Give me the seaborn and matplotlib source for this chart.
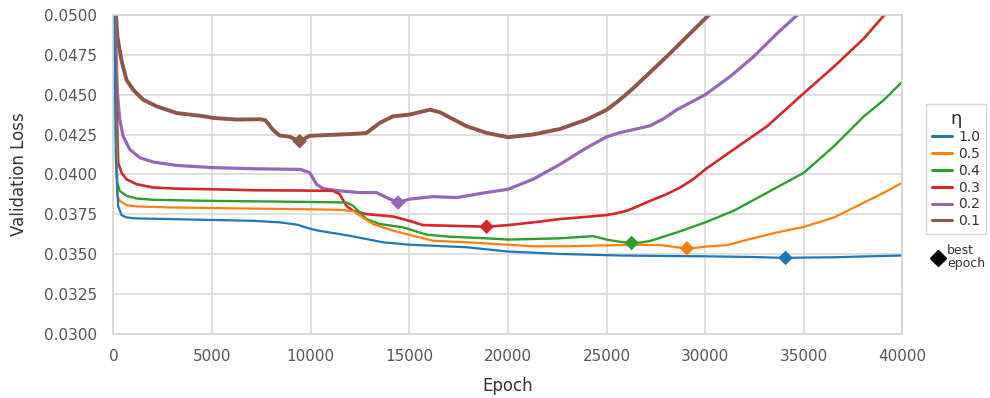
import numpy as np
import pandas as pd
import matplotlib
matplotlib.use("Agg")
import matplotlib.pyplot as plt
from matplotlib.lines import Line2D
from matplotlib.ticker import FuncFormatter
import seaborn as sns

# ---- validation loss per learning-rate scale η ----
eta_labels = ["1.0", "0.5", "0.4", "0.3", "0.2", "0.1"]
eta_colors = ["#1f77b4", "#ff7f0e", "#2ca02c", "#d62728", "#9467bd", "#8c564b"]
eta_widths = [1.6, 1.6, 1.7, 1.9, 2.3, 2.8]

epochs_10 = [0, 120, 240, 410, 660, 1170, 2860, 5070, 7100, 8460, 9300, 9980, 10400,
             11980, 13670, 15000, 17900, 20000, 22640, 25680, 28000, 30000, 32290,
             34070, 35000, 36530, 38000, 40000]
loss_10 = [0.0550, 0.0410, 0.0380, 0.03744, 0.03729, 0.03723, 0.03719, 0.03713, 0.03708,
           0.03698, 0.03684, 0.03658, 0.03646, 0.03614, 0.03573, 0.03558, 0.03542, 0.03515,
           0.03500, 0.03490, 0.03487, 0.03485, 0.03481, 0.03475, 0.03477, 0.03479,
           0.03484, 0.03490]

epochs_05 = [0, 100, 190, 320, 660, 1170, 2860, 5070, 9650, 11470, 12200, 12490, 13160,
             14180, 15190, 16200, 17900, 20000, 21270, 23000, 24660, 26360, 27710,
             28560, 29070, 29580, 30000, 31100, 32290, 33640, 35000, 36530, 38050,
             39070, 40000]
loss_05 = [0.0550, 0.0450, 0.03865, 0.03833, 0.03806, 0.03798, 0.03792, 0.03788, 0.03781,
           0.03777, 0.03768, 0.03740, 0.03688, 0.03646, 0.03614, 0.03583, 0.03573,
           0.03558, 0.03548, 0.03548, 0.03553, 0.03557, 0.03556, 0.03542, 0.03535,
           0.03539, 0.03546, 0.03555, 0.03594, 0.03635, 0.03670, 0.03729, 0.03823,
           0.03885, 0.03948]

epochs_04 = [0, 100, 190, 320, 660, 1170, 2020, 5070, 9650, 11810, 12150, 12830, 13500,
             14680, 15880, 17060, 18920, 20000, 22640, 24330, 25000, 25680, 26270,
             26700, 27200, 28560, 30000, 31440, 33140, 35000, 36530, 38050, 39070, 40000]
loss_04 = [0.0550, 0.0460, 0.03948, 0.03896, 0.03865, 0.03848, 0.03840, 0.03833, 0.03827,
           0.03823, 0.03802, 0.03719, 0.03688, 0.03667, 0.03621, 0.03608, 0.03598,
           0.03590, 0.03598, 0.03612, 0.03590, 0.03576, 0.03569, 0.03571, 0.03581,
           0.03635, 0.03698, 0.03771, 0.03885, 0.04010, 0.04177, 0.04365, 0.04469,
           0.04583]

epochs_03 = [0, 100, 240, 410, 660, 1170, 2020, 3200, 5070, 7100, 9650, 11130, 11470,
             11810, 12150, 12830, 14180, 15000, 15690, 17060, 18920, 20000, 21270,
             22640, 23990, 25000, 25500, 26020, 26600, 27200, 28000, 28730, 29400,
             30000, 31440, 33140, 35000, 36530, 38050, 39070, 40000]
loss_03 = [0.0550, 0.0470, 0.04073, 0.04010, 0.03969, 0.03938, 0.03917, 0.03910, 0.03906,
           0.03900, 0.03898, 0.03896, 0.03875, 0.03802, 0.03771, 0.03750, 0.03735,
           0.03708, 0.03681, 0.03677, 0.03671, 0.03681, 0.03698, 0.03719, 0.03733,
           0.03744, 0.03755, 0.03771, 0.03800, 0.03833, 0.03873, 0.03917, 0.03970,
           0.04031, 0.04156, 0.04302, 0.04510, 0.04677, 0.04854, 0.05000, 0.05120]

epochs_02 = [0, 100, 200, 320, 490, 830, 1340, 2020, 3200, 5070, 7100, 9480, 9950,
             10290, 10630, 11470, 12480, 13330, 13840, 14430, 15000, 16200, 17400,
             18920, 20000, 21270, 22640, 23990, 25000, 25680, 26500, 27200, 27900,
             28560, 30000, 31270, 32460, 33640, 34660, 35300]
loss_02 = [0.0550, 0.0490, 0.04510, 0.04344, 0.04240, 0.04156, 0.04104, 0.04077, 0.04056,
           0.04042, 0.04035, 0.04031, 0.04010, 0.03938, 0.03910, 0.03896, 0.03885,
           0.03886, 0.03854, 0.03823, 0.03844, 0.03860, 0.03854, 0.03886, 0.03906,
           0.03969, 0.04063, 0.04167, 0.04235, 0.04262, 0.04285, 0.04305, 0.04350,
           0.04406, 0.04500, 0.04615, 0.04740, 0.04885, 0.05000, 0.05080]

epochs_01 = [0, 100, 200, 400, 660, 1000, 1500, 2190, 3200, 4560, 5070, 6250, 7440,
             7700, 8080, 8420, 8930, 9440, 9950, 11470, 12480, 12830, 13500, 14170,
             15000, 16040, 16550, 17900, 18920, 20000, 21270, 22640, 23990, 25000,
             25680, 26360, 28050, 29070, 29750, 30420]
loss_01 = [0.0550, 0.0505, 0.04865, 0.04719, 0.04594, 0.04531, 0.04469, 0.04427,
           0.04385, 0.04365, 0.04354, 0.04344, 0.04346, 0.04340, 0.04281, 0.04244,
           0.04236, 0.04208, 0.04242, 0.04250, 0.04256, 0.04260, 0.04323, 0.04364,
           0.04375, 0.04406, 0.04390, 0.04302, 0.04260, 0.04233, 0.04250, 0.04285,
           0.04344, 0.04405, 0.04469, 0.04542, 0.04740, 0.04865, 0.04948, 0.05030]

epoch_lists = [epochs_10, epochs_05, epochs_04, epochs_03, epochs_02, epochs_01]
loss_lists = [loss_10, loss_05, loss_04, loss_03, loss_02, loss_01]

y_ticks = [0.0300, 0.0325, 0.0350, 0.0375, 0.0400, 0.0425, 0.0450, 0.0475, 0.0500]
x_ticks = [0, 5000, 10000, 15000, 20000, 25000, 30000, 35000, 40000]

frames = []
for lab, ep, ls in zip(eta_labels, epoch_lists, loss_lists):
    frames.append(pd.DataFrame({"Epoch": ep, "Validation Loss": ls, "η": lab}))
df = pd.concat(frames, ignore_index=True)

# best epoch = minimum validation loss of each run
best = df.loc[df.groupby("η", sort=False)["Validation Loss"].idxmin()]

sns.set_theme(style="whitegrid")
plt.rcParams["font.family"] = ["DejaVu Sans"]

fig = plt.figure(figsize=(9.9, 3.98), dpi=100)
ax = fig.add_axes([0.1146, 0.162, 0.797, 0.800])

handles = {}
for lab, col, lw in reversed(list(zip(eta_labels, eta_colors, eta_widths))):
    sub = df[df["η"] == lab]
    sns.lineplot(data=sub, x="Epoch", y="Validation Loss", color=col, linewidth=lw,
                 ax=ax, estimator=None, sort=False, legend=False)
    handles[lab] = Line2D([], [], color=col, linewidth=2.2)
for line in ax.get_lines():
    line.set_solid_joinstyle("round")

sns.scatterplot(data=best, x="Epoch", y="Validation Loss", hue="η",
                palette=dict(zip(eta_labels, eta_colors)), marker="D", s=55,
                linewidth=0, ax=ax, legend=False, zorder=5)

ax.set_xlim(0, 40000)
ax.set_ylim(0.03, 0.05)
ax.set_xticks(x_ticks)
ax.set_yticks(y_ticks)
ax.yaxis.set_major_formatter(FuncFormatter(lambda v, p: f"{v:.4f}"))
ax.xaxis.set_major_formatter(FuncFormatter(lambda v, p: f"{int(round(v))}"))

ax.grid(True, color="#d9d9d9", linewidth=1.2)
for sp in ax.spines.values():
    sp.set_color("#d4d4d4")
    sp.set_linewidth(1.2)
ax.tick_params(axis="both", length=0, labelsize=11, labelcolor="#555555")
ax.tick_params(axis="y", pad=12)
ax.tick_params(axis="x", pad=11)

ax.set_xlabel("Epoch", fontsize=12, color="#333333")
ax.set_ylabel("Validation Loss", fontsize=12, color="#333333")
ax.xaxis.set_label_coords(0.5, -0.135)
ax.yaxis.set_label_coords(-0.108, 0.5)

leg = fig.legend([handles[l] for l in eta_labels], eta_labels, title="η",
                 loc="upper left", bbox_to_anchor=(926 / 990, 1 - 104 / 398),
                 fontsize=10, title_fontsize=13, frameon=True, fancybox=False,
                 edgecolor="#cccccc", borderpad=0.4, labelspacing=0.2,
                 handlelength=1.5, handletextpad=0.4, borderaxespad=0)
leg.get_frame().set_linewidth(1.0)
for t in leg.get_texts():
    t.set_color("#333333")

best_leg = fig.legend([Line2D([], [], color="black", marker="D", linestyle="None",
                              markersize=8)],
                      ["best\nepoch"], loc="upper left",
                      bbox_to_anchor=(933 / 990, 1 - 244 / 398), frameon=False,
                      fontsize=9, handlelength=0.8, handletextpad=0.3,
                      borderaxespad=0, borderpad=0, labelspacing=0.0)
for t in best_leg.get_texts():
    t.set_color("#333333")
    t.set_linespacing(1.0)

fig.savefig("out.png", dpi=100)
